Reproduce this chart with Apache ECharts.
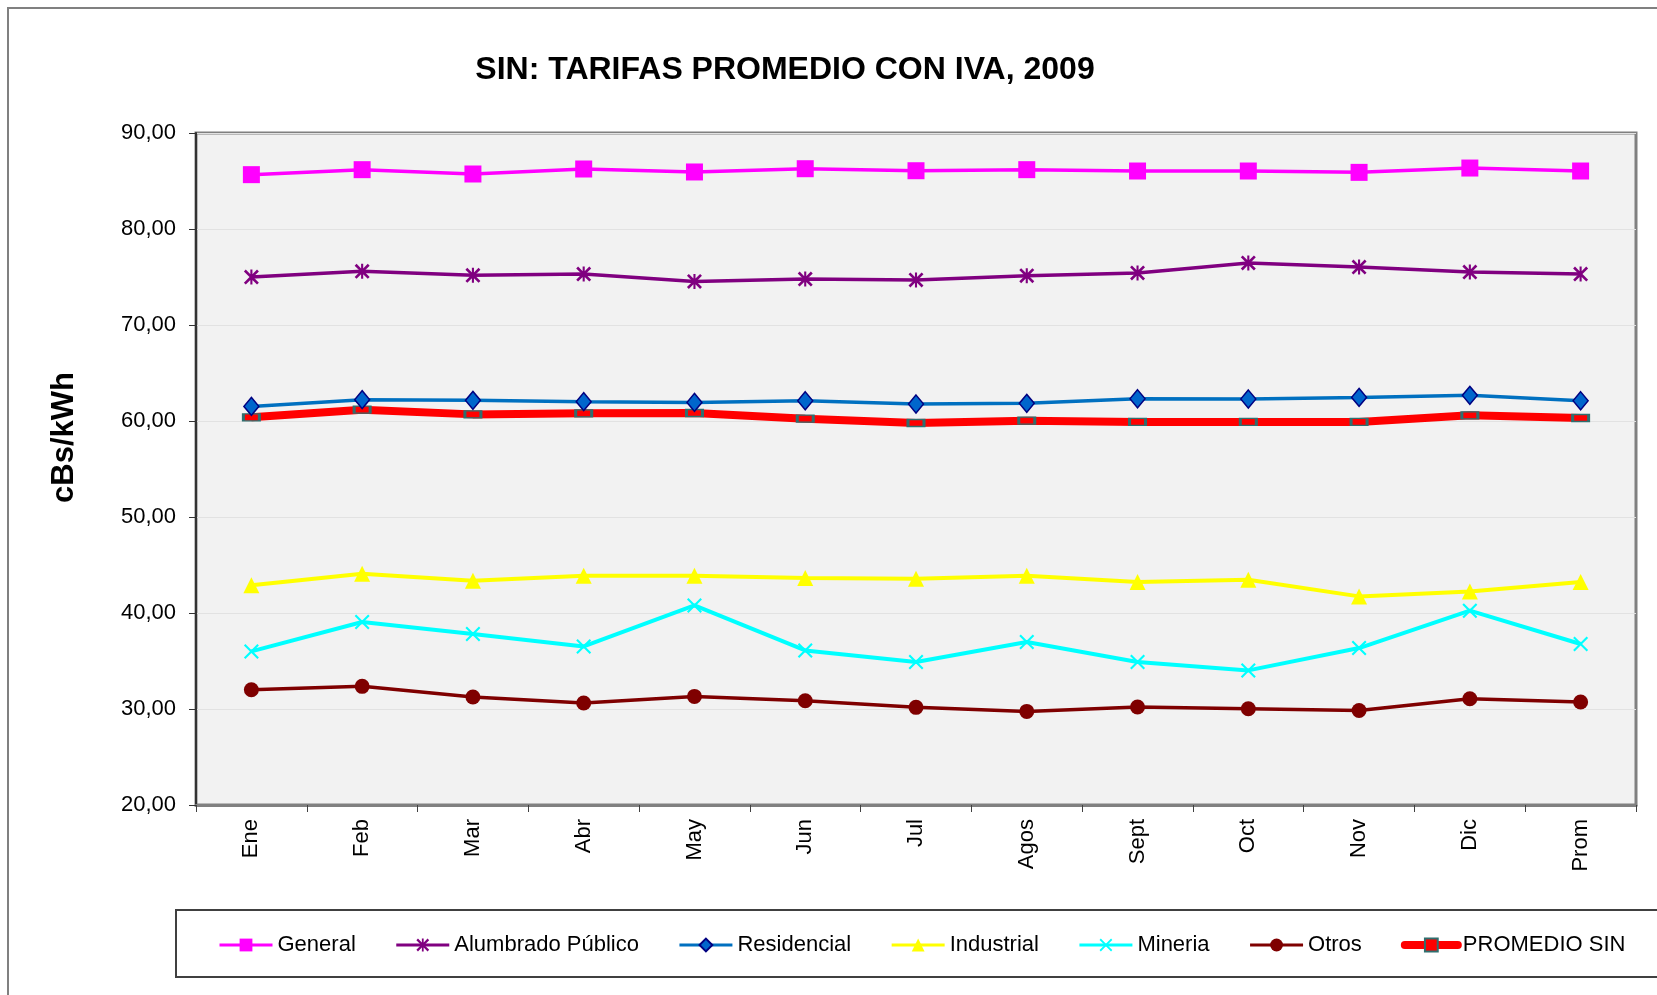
<!DOCTYPE html>
<html>
<head>
<meta charset="utf-8">
<script src="https://cdn.jsdelivr.net/npm/echarts@6/dist/echarts.min.js"></script>
<style>
html,body{margin:0;padding:0;background:#fff;}
#chart{width:1657px;height:995px;}
</style>
</head>
<body>
<div id="chart"></div>
<script>
const categories = ['Ene','Feb','Mar','Abr','May','Jun','Jul','Agos','Sept','Oct','Nov','Dic','Prom'];
const general     = [85.66, 86.18, 85.73, 86.25, 85.94, 86.28, 86.07, 86.18, 86.04, 86.04, 85.90, 86.35, 86.04];
const alumbrado   = [75.00, 75.59, 75.17, 75.31, 74.54, 74.79, 74.69, 75.14, 75.42, 76.46, 76.04, 75.52, 75.31];
const residencial = [61.52, 62.22, 62.15, 62.01, 61.94, 62.11, 61.77, 61.84, 62.32, 62.29, 62.46, 62.67, 62.11];
const industrial  = [42.88, 44.10, 43.36, 43.89, 43.89, 43.64, 43.57, 43.89, 43.23, 43.47, 41.73, 42.25, 43.23];
const mineria     = [36.00, 39.06, 37.81, 36.52, 40.79, 36.10, 34.90, 36.98, 34.90, 34.02, 36.35, 40.24, 36.77];
const otros       = [32.01, 32.36, 31.25, 30.62, 31.31, 30.86, 30.17, 29.75, 30.21, 30.03, 29.85, 31.07, 30.73];
const promedio    = [60.38, 61.18, 60.69, 60.80, 60.83, 60.24, 59.79, 60.03, 59.90, 59.90, 59.90, 60.59, 60.31];
const seriesNames = ['General','Alumbrado Público','Residencial','Industrial','Mineria','Otros','PROMEDIO SIN'];
const titleText = 'SIN: TARIFAS PROMEDIO CON IVA, 2009';
const yAxisTitle = 'cBs/kWh';

const FONT = '"Liberation Sans", Arial, Helvetica, sans-serif';
const xPath = 'path://M2,0 L10,8 L18,0 L20,2 L12,10 L20,18 L18,20 L10,12 L2,20 L0,18 L8,10 L0,2 Z';
const starPath = 'path://M2.5,0 L10,7.5 L17.5,0 L20,2.5 L12.5,10 L20,17.5 L17.5,20 L10,12.5 L2.5,20 L0,17.5 L7.5,10 L0,2.5 Z M8.6,0 L11.4,0 L11.4,20 L8.6,20 Z';

const colors = ['#ff00ff', '#800080', '#0070c0', '#ffff00', '#00ffff', '#7f0000', '#ff0000'];
const widths = [3.5, 3.5, 3.5, 4, 4, 3.5, 8];

function mk(i, data, symbol, size, extra) {
  return Object.assign({
    name: seriesNames[i], type: 'line', data: data,
    symbol: symbol, symbolSize: size, showSymbol: true,
    lineStyle: { color: colors[i], width: widths[i] },
    itemStyle: { color: colors[i] },
    emphasis: { disabled: true },
    animation: false
  }, extra || {});
}

const chart = echarts.init(document.getElementById('chart'), null, { renderer: 'canvas' });
chart.setOption({
  backgroundColor: '#ffffff',
  animation: false,
  textStyle: { fontFamily: FONT },
  title: {
    text: titleText, left: 780, top: 49, textAlign: 'center',
    textStyle: { fontFamily: FONT, fontSize: 32, fontWeight: 'bold', color: '#000' }
  },
  graphic: [
    { type: 'rect', z: -10, shape: { x: 8, y: 8, width: 1700, height: 1100 },
      style: { fill: 'none', stroke: '#808080', lineWidth: 2 } },
    { type: 'rect', z: -5, shape: { x: 176, y: 910, width: 1520, height: 67 },
      style: { fill: '#ffffff', stroke: '#404040', lineWidth: 2 } },
    { type: 'text', left: 49, top: 372, rotation: Math.PI / 2,
      style: { text: yAxisTitle, font: 'bold 31px ' + FONT, fill: '#000' } }
  ],
  legend: {
    data: seriesNames.map((n, i) => ({
      name: n,
      lineStyle: { width: i === 6 ? 8 : 3, cap: i === 6 ? 'round' : 'butt' }
    })),
    left: 213, top: 929, itemWidth: 53, itemHeight: 16, itemGap: 39,
    textStyle: { fontFamily: FONT, fontSize: 22, color: '#000' }
  },
  grid: {
    left: 196, top: 133, width: 1440, height: 672, show: true,
    backgroundColor: '#f2f2f2', borderColor: '#808080', borderWidth: 3
  },
  xAxis: {
    type: 'category', data: categories, boundaryGap: true,
    axisLine: { lineStyle: { color: '#808080', width: 3 } },
    axisTick: { show: true, length: 7, interval: 0, lineStyle: { color: '#404040', width: 1 } },
    axisLabel: { rotate: 90, interval: 0, fontSize: 22, color: '#000', margin: 14, fontFamily: FONT },
    splitLine: { show: false }
  },
  yAxis: {
    type: 'value', min: 20, max: 90, interval: 10,
    axisLine: { show: true, lineStyle: { color: '#333', width: 2 } },
    axisTick: { show: true, length: 7, lineStyle: { color: '#333', width: 1 } },
    axisLabel: { fontSize: 22, color: '#000', margin: 20, fontFamily: FONT,
      formatter: v => v.toFixed(2).replace('.', ',') },
    splitLine: { show: true, lineStyle: { color: '#e2e2e2', width: 1 } }
  },
  series: [
    mk(0, general, 'rect', 17),
    mk(1, alumbrado, starPath, 15),
    mk(2, residencial, 'diamond', [15, 18],
      { itemStyle: { color: '#0066cc', borderColor: '#000080', borderWidth: 1.5 } }),
    mk(3, industrial, 'triangle', 16),
    mk(4, mineria, xPath, 15),
    mk(5, otros, 'circle', 15),
    mk(6, promedio, 'rect', [16, 7],
      { itemStyle: { color: '#ff0000', borderColor: '#2f6f6f', borderWidth: 2 }, z: 1 })
  ]
});
</script>
</body>
</html>
